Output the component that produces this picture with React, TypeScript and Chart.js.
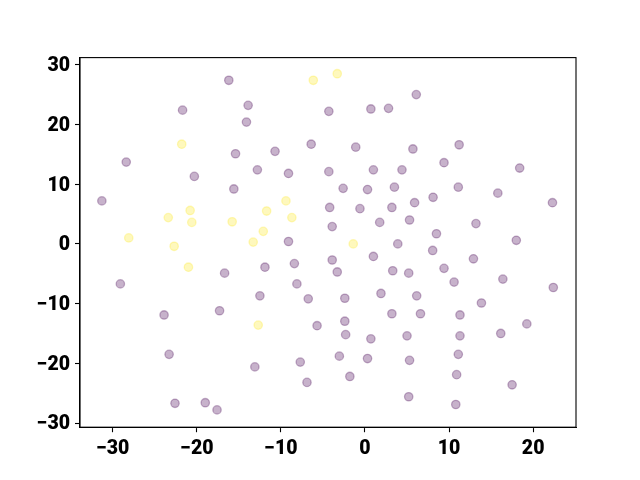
import React, { useEffect, useRef } from "react";
import { Chart, registerables } from "chart.js";

Chart.register(...registerables);

const purpleX = [
  -16.2, -21.7, -13.9, -14.1, -4.3, -28.4, -15.4, -10.7, -6.4, -12.8, -9.1, -20.3, -4.3, -15.6, -31.3, -4.2, -9.1, -3.9,
  6.1, 0.7, 2.8, -1.1, 5.7, 11.2, 9.4, 18.4, 1.0, 4.4, -2.6, 0.3, 3.5, 11.1, 15.8, 22.3, -0.6, 3.2, 5.9, 8.1, 1.75, 5.3, 13.2, 8.5, 3.9, 18.0,
  -16.7, -11.9, -8.4, -29.1, -8.1, -12.5, -6.75, -23.9, -17.3, -5.7, -23.3, -13.1, -7.7, -6.9, -22.6, -19.0, -17.6,
  8.05, -3.9, 1.0, 12.9, -3.3, 3.3, 5.2, 9.4, 10.6, 16.4, 22.4, -2.4, 1.9, 6.15, 13.85, 3.2, 6.6, 11.3, 19.25, -2.4, -2.3, 0.7, 5.0, 11.3, 16.15, -3.05, 0.3, 5.3, 11.1, -1.8, 10.9, 17.5, 5.2, 10.8,
];
const purpleY = [
  27.4, 22.4, 23.2, 20.4, 22.2, 13.7, 15.1, 15.5, 16.7, 12.4, 11.8, 11.3, 12.1, 9.2, 7.2, 6.1, 0.4, 2.9,
  25.0, 22.6, 22.7, 16.2, 15.9, 16.6, 13.6, 12.7, 12.4, 12.4, 9.3, 9.1, 9.5, 9.5, 8.5, 6.9, 5.9, 6.1, 6.9, 7.8, 3.6, 4.0, 3.4, 1.7, 0.0, 0.6,
  -4.9, -3.9, -3.3, -6.7, -6.7, -8.7, -9.2, -11.9, -11.2, -13.7, -18.5, -20.6, -19.8, -23.2, -26.7, -26.6, -27.8,
  -1.1, -2.7, -2.1, -2.5, -4.7, -4.5, -4.9, -4.1, -6.4, -5.9, -7.3, -9.1, -8.3, -8.7, -9.9, -11.7, -11.7, -11.9, -13.4, -12.95, -15.2, -15.9, -15.4, -15.4, -15.0, -18.8, -19.2, -19.5, -18.5, -22.2, -21.9, -23.6, -25.6, -26.9,
];
const yellowX = [-6.15, -3.3, -21.8, -9.4, -20.8, -11.7, -23.4, -20.6, -15.8, -8.7, -12.1, -28.1, -13.3, -22.7, -21.0, -12.7, -1.4];
const yellowY = [27.4, 28.5, 16.7, 7.2, 5.6, 5.5, 4.4, 3.6, 3.7, 4.4, 2.1, 1.0, 0.3, -0.4, -3.9, -13.6, 0.0];

const xTicks = [-30, -20, -10, 0, 10, 20];
const yTicks = [-30, -20, -10, 0, 10, 20, 30];

const fmt = (v: number) => (v < 0 ? "\u2212" + Math.abs(v) : String(v));

const frame = {
  id: "frame",
  afterDraw(chart: any) {
    const { ctx, chartArea } = chart;
    ctx.save();
    ctx.strokeStyle = "#000";
    ctx.lineWidth = 1.1;
    ctx.strokeRect(chartArea.left, chartArea.top, chartArea.right - chartArea.left, chartArea.bottom - chartArea.top);
    ctx.restore();
  },
};

export default function App() {
  const ref = useRef<HTMLCanvasElement>(null);
  useEffect(() => {
    const purple = "rgba(68,1,84,0.3)";
    const yellow = "rgba(253,231,37,0.3)";
    const font = { family: "Roboto", size: 19.5, weight: 900 as any };
    const chart = new Chart(ref.current!, {
      type: "scatter",
      data: {
        datasets: [
          {
            data: purpleX.map((x, i) => ({ x, y: purpleY[i] })),
            backgroundColor: purple,
            borderColor: purple,
            borderWidth: 1.3,
            pointRadius: 4.2,
          },
          {
            data: yellowX.map((x, i) => ({ x, y: yellowY[i] })),
            backgroundColor: yellow,
            borderColor: yellow,
            borderWidth: 1.3,
            pointRadius: 4.2,
          },
        ],
      },
      options: {
        animation: false,
        responsive: false,
        layout: { padding: { left: 0, top: 57.6, right: 64, bottom: 0 } },
        plugins: { legend: { display: false }, tooltip: { enabled: false } },
        scales: {
          x: {
            type: "linear",
            min: -33.9,
            max: 25.1,
            afterBuildTicks: (s: any) => {
              s.ticks = xTicks.map((v) => ({ value: v }));
            },
            afterFit: (s: any) => {
              s.height = 52.8;
            },
            grid: { drawOnChartArea: false, tickLength: 5, tickColor: "#000", tickWidth: 1.1 },
            border: { color: "#000", width: 1.1 },
            ticks: { color: "#000", font, padding: 5, maxRotation: 0, callback: (v: any) => fmt(Number(v)) },
          },
          y: {
            type: "linear",
            min: -30.7,
            max: 31.2,
            afterBuildTicks: (s: any) => {
              s.ticks = yTicks.map((v) => ({ value: v }));
            },
            afterFit: (s: any) => {
              s.width = 80;
            },
            grid: { drawOnChartArea: false, tickLength: 5, tickColor: "#000", tickWidth: 1.1 },
            border: { color: "#000", width: 1.1 },
            ticks: { color: "#000", font, padding: 5, labelOffset: 1.5, callback: (v: any) => fmt(Number(v)) },
          },
        },
      },
      plugins: [frame],
    });
    return () => chart.destroy();
  }, []);
  return (
    <div style={{ position: "fixed", left: 0, top: 0, width: 640, height: 480, background: "#fff" }}>
      <canvas ref={ref} width={640} height={480} style={{ width: 640, height: 480 }} />
    </div>
  );
}
